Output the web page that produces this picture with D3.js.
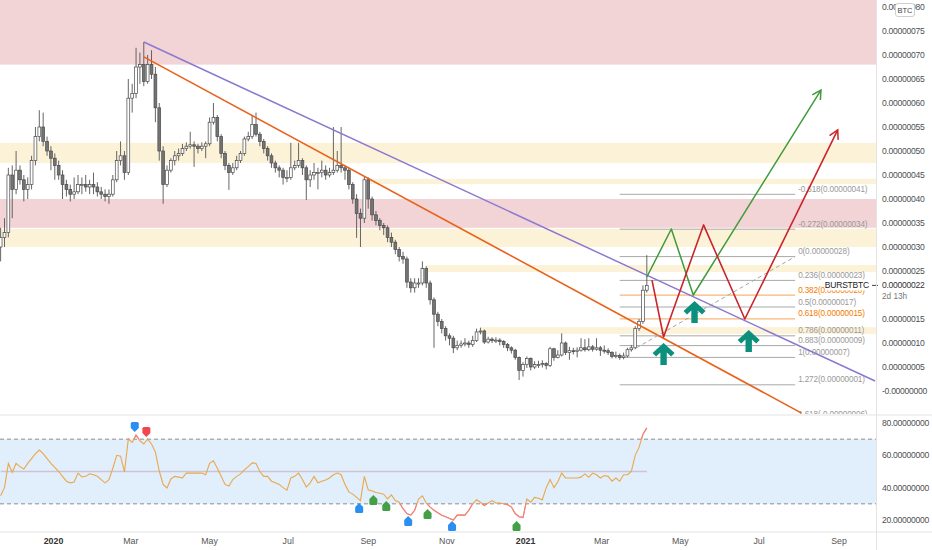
<!DOCTYPE html>
<html><head><meta charset="utf-8">
<script src="https://cdn.jsdelivr.net/npm/d3@7/dist/d3.min.js"></script>
<style>
body{margin:0;background:#fff;}
svg{display:block;font-family:"Liberation Sans",Arial,sans-serif;}
</style>
</head><body>
<svg id="c" width="932" height="550"></svg>
<script>
// ---------------- DATA (prices in units of 0.00000001 BTC) ----------------
const startDate = "2019-11-21";
const stepDays = 3;
const opens = [30,32,33,45,42,46,44,42,43,48, 53,55,52,50,48.5,47,45,43,42,41, 41.5,43,43,42.5,43,42.5,41.5,41,40.5,41,
 44,48,49,45.5,61,62,67.5,68,64.5,68, 66,59,50,43,46,48,49,49.5,50.5,51, 51.3,51,50.5,51,51.5,56,57,53,49.5,47,
 45.5,46.5,48,49.5,52.5,53,55.5,53.5,52,50.5, 49,47.5,46.5,46,44.5,44.5,46.5,47,48,46.5, 44,45,45.5,45.5,46,45,45.5,46,47,46.5,
 46,43,40,37,36,44,40,36.7,35.5,34.5, 34,32,31,29.5,28,27.5,22.7,21.5,22.5,22.5, 25.5,22.5,19,16,14.5,13,11.5,11,9,9.5,
 9.8,10,9.7,10.5,12.3,12.5,10.2,10.8,10.5,10.6, 10.3,9.7,9,8.5,7,4.3,5.5,6.8,5,5.5, 5.5,5.7,5.3,8.8,7,7.5,10,8,8.4,8.2,
 8.5,9,8.6,9.2,8.7,9,8.5,8.4,8,7.2, 7.4,7,7.3,8.6,9,13,14.5,21];
const highs = [34,36,46.5,47,50,47,45,44.5,49,55, 58.5,58,53,51,49.5,48,46,44,43,44.5, 45,44.5,45,44,45.5,43.5,42.5,42,42,45,
 50,52,50,65,64,71.5,70.5,72.7,70,71, 67.5,60,51,47,48.5,50,50.5,51.5,51.8,54, 52,51.5,51.8,52,57,60,57.5,53.5,50,47.5,
 47.5,49,50,53,54,57.5,58,54,52.5,51, 49.5,48,47,46.5,46,51.7,48,51.7,48.5,47, 46,47.5,46.5,48,47,46.5,55,50,55,47,
 46.5,43.5,41,38,44.6,44.5,40.5,37.5,36,35, 34.5,33,31.5,30,29,28,23.5,23.5,23.5,27, 26,23,19.5,16.5,15,13.5,12,11.5,10.5,10.5,
 11,10.5,11.5,13,13.2,12.8,11.3,11.2,11.2,11, 10.6,10,9.3,8.8,7.2,6,7.2,7,6.2,6.3, 6.4,6,9.2,9,8.5,12,10.3,9.2,9,9.1,
 11,10.8,11,9.6,11,9.4,9.5,8.9,8.3,8.2, 7.8,8,9,9.6,13.5,15,22,28.3];
const lows = [27,30,32,36,41,43,39.5,40,42,47, 52,51,49,46,44,44,40,40.5,39.5,40, 41,41,41.5,41,41,40.5,40,39.5,39,40.5,
 43.5,47,44,45,58,61,64,63.5,64,65, 56,48,39,42.5,45.5,47,48,49,50,50.5, 46.7,49.5,50,48.5,51,55.5,52,48.5,46,41.9,
 45,46,47.5,49,52,52.5,53,51,49.5,48, 46.5,45.5,44.5,43,43.5,44,46,46.5,45,39.8, 42.5,44,42,44.5,44,44.5,45,45.5,45.5,44,
 42,39,31.9,30,35,38,35.5,34.5,33.5,32.5, 31,30,28.5,27,26.5,21.5,20.5,20.5,21.5,22, 21.5,18,9,13.5,12,10.5,9.5,7.9,8.5,9,
 9.3,9,9.2,10.2,11.8,9.8,9.9,10,10,9.5, 9,8.3,7.8,6.5,2.3,3,4.8,4.3,4.6,4.8, 4.9,4.5,5,6.3,6.8,7.2,7.5,6.5,7.6,7,
 8.2,8.2,8.3,8.2,8.4,7.3,7.8,7.5,6.8,6.8, 6.5,6.6,7,8.2,8.7,12.5,14,20.5];
const closes = [32,33,45,42,46,44,42,43,48,53, 55,52,50,48.5,47,45,43,42,41,41.5, 43,43,42.5,43,42.5,41.5,41,40.5,41,44,
 48,49,45.5,61,62,67.5,68,64.5,68,66, 59,50,43,46,48,49,49.5,50.5,51,51.3, 51,50.5,51,51.5,56,57,53,49.5,47,45.5,
 46.5,48,49.5,52.5,53,55.5,53.5,52,50.5,49, 47.5,46.5,46,44.5,44.5,46.5,47,48,46.5,44, 45,45.5,45.5,46,45,45.5,46,47,46.5,46,
 43,40,37,36,44,40,36.7,35.5,34.5,34, 32,31,29.5,28,27.5,22.7,21.5,22.5,22.5,25.5, 22.5,19,16,14.5,13,11.5,11,9,9.5,9.8,
 10,9.7,10.5,12.3,12.5,10.2,10.8,10.5,10.6,10.3, 9.7,9,8.5,7,4.3,5.5,6.8,5,5.5,5.5, 5.7,5.3,8.8,7,7.5,10,8,8.4,8.2,8.5,
 9,8.6,9.2,8.7,9,8.5,8.4,8,7.2,7.4, 7,7.3,8.6,9,13,14.5,21,22];
const rsi = [35,40,55,49.5,55,53,51.5,55,58,61, 63.3,61,58,55,52.5,50,47,44,43,43.5, 49,46.6,47,48.6,48,47,45,43,45,52,
 60,59.5,49.7,70,68,72.6,69,67,70,67, 62,50.3,42,39.8,45.4,47,46.5,46,49,49, 49,49,49,48,55,56.6,52,47,42,41,
 45,47,48.5,51,53,55.3,55,50,47,47, 44,43,42,40,38.5,46,47,49,45,40.4, 43,47,43,44,44.7,46,48,49,48,42,
 37.4,36,34,32,47,38.7,38,37,36.5,36, 33,35.5,32,31,27,24,23,26,33,35, 30.5,28,26,24.5,23,22,21,20,23,23,
 23,26,30,32.5,31,29,30.5,32,30.5,30.5, 30,29.5,28,24,22,21.5,33,31,34,33.5, 32.5,40,45,40,43.6,49,46,46,46,46,
 46.5,48.5,46.5,49,48,46,47.5,47,44,46, 44,48,48,50,60,65,73,77];

const priceTicks = [0,5,10,15,20,25,30,35,40,45,50,55,60,65,70,75,80];
const rsiTicks = [20,40,60,80];
const timeTicks = ["2020-01-01","2020-03-01","2020-05-01","2020-07-01","2020-09-01","2020-11-01","2021-01-01","2021-03-01","2021-05-01","2021-07-01","2021-09-01"];
const timeLabels = ["2020","Mar","May","Jul","Sep","Nov","2021","Mar","May","Jul","Sep"];

// support / resistance zones
const zoneLow  = [68, 47.5, 43.1, 34, 30, 24.8, 11.9];
const zoneHigh = [95, 51.7, 44.2, 40, 33.75, 26.25, 13.3];
const zoneFrom = ["2019-11-01","2019-11-01","2020-08-31","2019-11-01","2019-11-01","2020-10-16","2020-11-27"];
const zoneKind = ["supply","demand","demand","supply","demand","demand","demand"];

// fibonacci retracement
const fibRatios = [-0.618,-0.272,0,0.236,0.382,0.5,0.618,0.786,0.883,1,1.272,1.618];
const fibHigh = 28, fibLow = 7;
const fibFrom = "2021-03-15", fibTo = "2021-07-29";
const fibAnchorDates = ["2021-03-28","2021-07-29"], fibAnchorPrices = [9, 28];

// trend lines
const purpleDates = ["2020-03-11","2021-09-29"], purplePrices = [72.7, 2.08];
const orangeDates = ["2020-03-11","2021-08-03"], orangePrices = [69.6, -4.6];

// projected paths
const greenDates = ["2021-04-05","2021-04-24","2021-05-11","2021-08-18"], greenPrices = [23.75, 33.75, 20, 62.7];
const redDates = ["2021-04-09","2021-04-18","2021-05-19","2021-06-20","2021-08-31"], redPrices = [23.1, 11.25, 34.6, 15, 54.4];
const arrowDates = ["2021-04-18","2021-05-12","2021-06-23"], arrowPrices = [10, 18.75, 12.7];

// RSI signal markers
const markDates = ["2020-03-04","2020-03-13","2020-08-25","2020-09-05","2020-09-15","2020-10-02","2020-10-17","2020-11-05","2020-12-25"];
const markRsi   = [77.5, 74.4, 27.4, 32.4, 28.7, 19.4, 23.7, 16.3, 16.3];
const markColor = ["blue","red","blue","green","green","blue","green","blue","green"];
const markDir   = ["down","down","up","up","up","up","up","up","up"];

const lastPrice = 22;
const symbol = "BURSTBTC";
const countdown = "2d 13h";

// ---------------- CHART ----------------
const svg = d3.select("#c");
const plotR = 876, priceBot = 414, rsiTop = 416, rsiBot = 531;
const parse = d3.utcParse("%Y-%m-%d");
const x = d3.scaleUtc().domain([parse("2020-01-01"), parse("2021-09-01")]).range([53.5, 839]);
const y = d3.scaleLinear().domain([0, 80]).range([391, 7]);
const yr = d3.scaleLinear().domain([20, 80]).range([520, 423]);
const candleDate = i => d3.utcDay.offset(parse(startDate), i * stepDays);
const fmtP = v => (v === 0 ? "-0.00000000" : (v * 1e-8).toFixed(8));

const defs = svg.append("defs");
defs.append("clipPath").attr("id","cp").append("rect").attr("x",0).attr("y",0).attr("width",plotR).attr("height",priceBot);
defs.append("clipPath").attr("id","cr").append("rect").attr("x",0).attr("y",rsiTop).attr("width",plotR).attr("height",rsiBot-rsiTop);
const hiClip = defs.append("clipPath").attr("id","rsiOut");
hiClip.append("rect").attr("x",0).attr("y",rsiTop).attr("width",plotR).attr("height",yr(70)-rsiTop);
hiClip.append("rect").attr("x",0).attr("y",yr(30)).attr("width",plotR).attr("height",rsiBot-yr(30));

const gp = svg.append("g").attr("clip-path","url(#cp)");

// zones
zoneLow.forEach((lo,i)=>{
  const x0 = Math.max(0, x(parse(zoneFrom[i])));
  gp.append("rect").attr("x",x0).attr("width",plotR-x0)
    .attr("y",y(zoneHigh[i])).attr("height",y(zoneLow[i])-y(zoneHigh[i]))
    .attr("fill", zoneKind[i]==="supply" ? "#f2d3d6" : "#fcf2d8");
});

// fib levels
const fx0 = x(parse(fibFrom)), fx1 = x(parse(fibTo));
fibRatios.forEach(r=>{
  const v = fibHigh - (fibHigh - fibLow) * r;
  const orange = (r === 0.382 || r === 0.618);
  gp.append("line").attr("x1",fx0).attr("x2",fx1).attr("y1",y(v)).attr("y2",y(v))
    .attr("stroke", orange ? "#f5a356" : "#a8a8a8").attr("stroke-width",1);
  gp.append("text").attr("x",fx1+3).attr("y",y(v)-2.5)
    .attr("font-size",8.2).attr("letter-spacing",-0.15)
    .attr("fill", orange ? "#f57c00" : "#9a9a9a")
    .text(`${r}(${(v*1e-8).toFixed(8)})`);
});

// candles
closes.forEach((c,i)=>{
  const cx = x(candleDate(i));
  const o = opens[i], h = highs[i], l = lows[i];
  const up = c >= o;
  gp.append("line").attr("x1",cx).attr("x2",cx).attr("y1",y(h)).attr("y2",y(l))
    .attr("stroke","#555").attr("stroke-width",0.9);
  const top = y(Math.max(o,c)), bot = y(Math.min(o,c));
  gp.append("rect").attr("x",cx-1.4).attr("width",2.8)
    .attr("y",top).attr("height",Math.max(1,bot-top))
    .attr("fill", up ? "#ffffff" : "#747474").attr("stroke","#4a4a4a").attr("stroke-width",0.7);
});

const line = d3.line();
function drawPath(dates, prices, color, w, dash){
  const pts = dates.map((d,i)=>[x(parse(d)), y(prices[i])]);
  const p = gp.append("path").attr("d",line(pts)).attr("fill","none")
    .attr("stroke",color).attr("stroke-width",w).attr("stroke-linejoin","round");
  if (dash) p.attr("stroke-dasharray",dash);
  return pts;
}
drawPath(purpleDates, purplePrices, "#8c79cf", 1.5);
drawPath(orangeDates, orangePrices, "#e8621a", 1.6);
drawPath(fibAnchorDates, fibAnchorPrices, "#a5a5a5", 1, "4,3");

function arrowHead(pts, color){
  const a = pts[pts.length-2], b = pts[pts.length-1];
  const ang = Math.atan2(b[1]-a[1], b[0]-a[0]);
  const L = 10, s = 0.5;
  const p1 = [b[0]-L*Math.cos(ang-s), b[1]-L*Math.sin(ang-s)];
  const p2 = [b[0]-L*Math.cos(ang+s), b[1]-L*Math.sin(ang+s)];
  gp.append("path").attr("d",line([p1,b,p2])).attr("fill","none")
    .attr("stroke",color).attr("stroke-width",1.5);
}
const gpts = drawPath(greenDates, greenPrices, "#3f9a3a", 1.5);
arrowHead(gpts, "#3f9a3a");
const rpts = drawPath(redDates, redPrices, "#c9252c", 1.6);
arrowHead(rpts, "#c9252c");

// teal arrows
arrowDates.forEach((d,i)=>{
  const ax = x(parse(d)), ay = y(arrowPrices[i]);
  gp.append("path").attr("transform",`translate(${ax},${ay})`)
    .attr("d","M0,0 L11,10 L7.5,13.5 L3.2,9.5 L3.2,22 L-3.2,22 L-3.2,9.5 L-7.5,13.5 L-11,10 Z")
    .attr("fill","#0d8f7d");
});

// symbol label & current price
const lp = y(lastPrice);
svg.append("rect").attr("x",826).attr("y",lp-6).attr("width",48).attr("height",11).attr("fill","#fff");
svg.append("text").attr("x",869).attr("y",lp+3).attr("text-anchor","end").attr("font-size",8.5)
  .attr("letter-spacing",-0.2).attr("fill","#222").text(symbol);
svg.append("line").attr("x1",872).attr("x2",878).attr("y1",lp).attr("y2",lp).attr("stroke","#444");

// ---------------- RSI panel ----------------
const gr = svg.append("g").attr("clip-path","url(#cr)");
gr.append("rect").attr("x",0).attr("width",plotR).attr("y",yr(70)).attr("height",yr(30)-yr(70)).attr("fill","#e1eefb");
[70,30].forEach(v=>gr.append("line").attr("x1",0).attr("x2",plotR).attr("y1",yr(v)).attr("y2",yr(v))
  .attr("stroke","#8d8d8d").attr("stroke-dasharray","4,3").attr("stroke-width",1));
gr.append("line").attr("x1",x(candleDate(0))).attr("x2",x(candleDate(closes.length-1)))
  .attr("y1",yr(50)).attr("y2",yr(50)).attr("stroke","#cdc3d3").attr("stroke-width",1.5);
const rpath = d3.line().x((d,i)=>x(candleDate(i))).y(d=>yr(d));
gr.append("path").attr("d",rpath(rsi)).attr("fill","none").attr("stroke","#eaa84c").attr("stroke-width",1.1);
svg.append("path").attr("d",rpath(rsi)).attr("fill","none").attr("stroke","#f47b85").attr("stroke-width",1.1)
  .attr("clip-path","url(#rsiOut)");
const markCol = {blue:"#2a8ff0", red:"#f0484e", green:"#43a047"};
markDates.forEach((d,i)=>{
  const mx = x(parse(d)), my = yr(markRsi[i]);
  const dPath = "M-4,-3.5 Q-4,-5 -2.5,-5 L2.5,-5 Q4,-5 4,-3.5 L4,1 L0,5 L-4,1 Z";
  const t = markDir[i]==="down" ? `translate(${mx},${my})` : `translate(${mx},${my}) scale(1,-1)`;
  svg.append("path").attr("transform",t).attr("d",dPath).attr("fill",markCol[markColor[i]]);
});

// ---------------- frames & axes ----------------
const sep = "#e3e3e3";
svg.append("line").attr("x1",0).attr("x2",932).attr("y1",415).attr("y2",415).attr("stroke",sep);
svg.append("line").attr("x1",0).attr("x2",932).attr("y1",532).attr("y2",532).attr("stroke",sep);
svg.append("line").attr("x1",plotR+0.5).attr("x2",plotR+0.5).attr("y1",0).attr("y2",550).attr("stroke",sep);

const axisCol = "#4f4f4f";
// price scale labels; those hidden behind the last-price label are skipped (as the platform does)
priceTicks.filter(v => Math.abs(y(v) - lp) > 14 && Math.abs(y(v) - (lp + 11)) > 9).forEach(v=>{
  svg.append("text").attr("x",882).attr("y",y(v)+3).attr("font-size",8.6).attr("letter-spacing",-0.3)
    .attr("fill",axisCol).text(fmtP(v));
});
svg.append("text").attr("x",882).attr("y",lp+3).attr("font-size",8.6).attr("letter-spacing",-0.3)
  .attr("fill","#333").text(fmtP(lastPrice));
svg.append("text").attr("x",882).attr("y",lp+14).attr("font-size",8.2).attr("fill","#777").text(countdown);
// BTC currency box
svg.append("rect").attr("x",895.5).attr("y",3.5).attr("width",19).attr("height",13).attr("rx",2.5)
  .attr("fill","#fff").attr("stroke","#cfcfcf");
svg.append("text").attr("x",905).attr("y",13).attr("text-anchor","middle").attr("font-size",7.5)
  .attr("fill","#444").text("BTC");

rsiTicks.forEach(v=>{
  svg.append("text").attr("x",882).attr("y",yr(v)+3).attr("font-size",8.6).attr("letter-spacing",-0.3)
    .attr("fill",axisCol).text(v.toFixed(8));
});
timeTicks.forEach((d,i)=>{
  const yr4 = /^\d{4}$/.test(timeLabels[i]);
  svg.append("text").attr("x",x(parse(d))).attr("y",544).attr("text-anchor","middle")
    .attr("font-size",8.8).attr("font-weight", yr4 ? "bold" : "normal")
    .attr("fill", yr4 ? "#333" : "#555").text(timeLabels[i]);
});
</script>
</body></html>
